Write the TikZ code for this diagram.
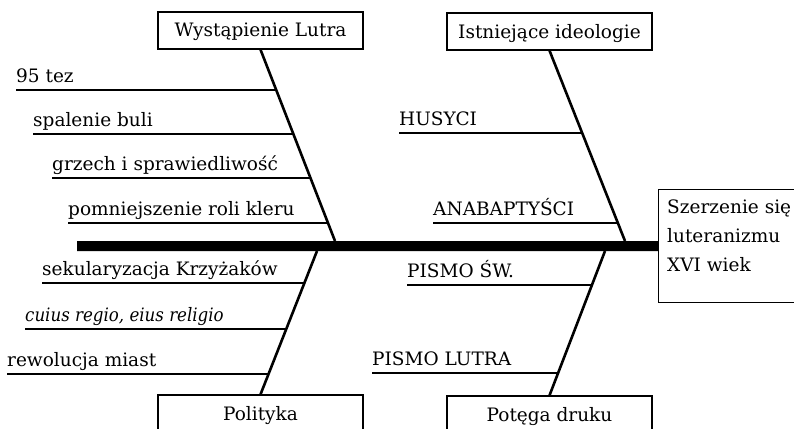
\documentclass[tikz,border=0pt]{standalone}
\usepackage{fontspec}
\setmainfont{DejaVu Serif}[ItalicFeatures={FakeStretch=0.9}]

\begin{document}
\begin{tikzpicture}[x=1pt,y=-1pt,
		font=\fontsize{18.5}{29}\selectfont,
		box/.style={draw,line width=1.2pt,minimum width=205pt,text height=13pt,text depth=0pt,inner ysep=12pt,anchor=base},
		item/.style={anchor=base west,inner sep=0pt},
		rib/.style={line width=1.2pt},
		bone/.style={line width=2.6pt}]

			% Fix the page to the size of the picture
			\useasboundingbox (0,0) rectangle (794,428);
			\clip (0,0) rectangle (794,428);

			% The effect, at the head of the fish
			\node (cel) at (658,189)[draw,line width=1.2pt,anchor=north west,minimum width=150pt,minimum height=113pt]{};
			\node (celtekst) at (667,199.5)[anchor=north west,align=left,inner sep=0pt]{Szerzenie się\\luteranizmu\\XVI wiek};

			% The four causes
			\node (lutra) at (260.5,37)[box]{Wystąpienie Lutra};
			\node (ideol) at (549.5,38)[box]{Istniejące ideologie};
			\node (polit) at (260.5,420)[box,text depth=40pt]{Polityka};
			\node (druk) at (549.5,421)[box,text depth=40pt]{Potęga druku};

			% Where the bones meet the spine
			\coordinate (k1) at (335,241);
			\coordinate (k2) at (625,241);
			\coordinate (k3) at (317,251);
			\coordinate (k4) at (605,251);
			\coordinate (ogon) at (77,246);

			% Draw the bones and the spine
			\draw [bone] (lutra.south) -- (k1);
			\draw [bone] (ideol.south) -- (k2);
			\draw [bone] (k3) -- (polit.north);
			\draw [bone] (k4) -- (druk.north);
			\draw [line width=10pt] (ogon) -- (cel.west);

			% Wystapienie Lutra
			\node (w1) at (16,82)[item]{95 tez};
			\node (w2) at (33,126)[item]{spalenie buli};
			\node (w3) at (52,170)[item]{grzech i sprawiedliwość};
			\node (w4) at (68,215)[item]{pomniejszenie roli kleru};
			\coordinate (b1) at (276.7,90);
			\coordinate (b2) at (293.7,134);
			\coordinate (b3) at (310.7,178);
			\coordinate (b4) at (328.1,223);
			\draw [rib] ([yshift=-8pt]w1.base west) -- (b1);
			\draw [rib] ([yshift=-8pt]w2.base west) -- (b2);
			\draw [rib] ([yshift=-8pt]w3.base west) -- (b3);
			\draw [rib] ([yshift=-8pt]w4.base west) -- (b4);

			% Istniejace ideologie
			\node (i1) at (399,125)[item]{HUSYCI};
			\node (i2) at (433,215)[item]{ANABAPTYŚCI};
			\coordinate (b5) at (582.5,133);
			\coordinate (b6) at (617.9,223);
			\draw [rib] ([yshift=-8pt]i1.base west) -- (b5);
			\draw [rib] ([yshift=-8pt]i2.base west) -- (b6);

			% Polityka
			\node (p1) at (42,275)[item]{sekularyzacja Krzyżaków};
			\node (p2) at (25,321)[item]{\itshape cuius regio, eius religio};
			\node (p3) at (7,366)[item]{rewolucja miast};
			\coordinate (b7) at (304.3,283);
			\coordinate (b8) at (286.0,329);
			\coordinate (b9) at (268.1,374);
			\draw [rib] ([yshift=-8pt]p1.base west) -- (b7);
			\draw [rib] ([yshift=-8pt]p2.base west) -- (b8);
			\draw [rib] ([yshift=-8pt]p3.base west) -- (b9);

			% Potega druku
			\node (d1) at (407,277)[item]{PISMO ŚW.};
			\node (d2) at (372,365)[item]{PISMO LUTRA};
			\coordinate (b10) at (591.8,285);
			\coordinate (b11) at (557.6,373);
			\draw [rib] ([yshift=-8pt]d1.base west) -- (b10);
			\draw [rib] ([yshift=-8pt]d2.base west) -- (b11);

\end{tikzpicture}
\end{document}
